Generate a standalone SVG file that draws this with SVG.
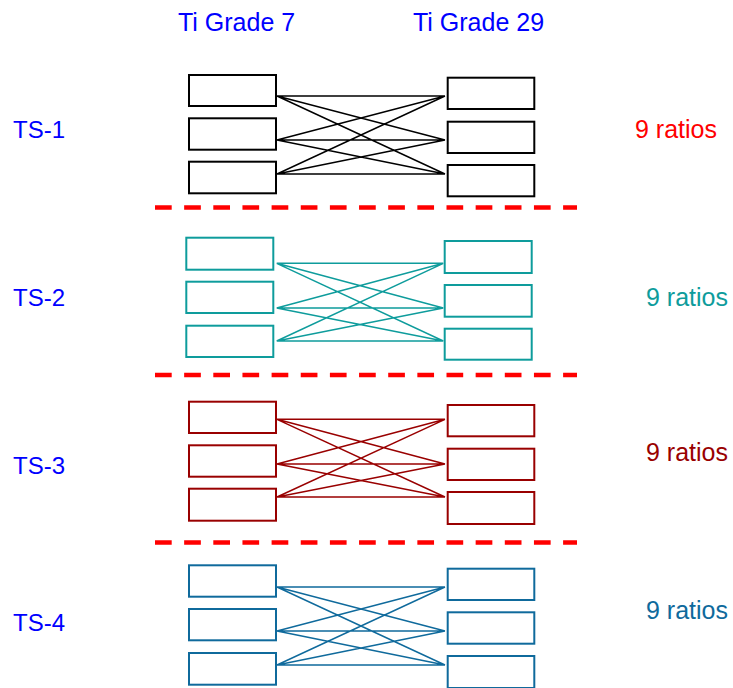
<svg xmlns="http://www.w3.org/2000/svg" width="733" height="688" viewBox="0 0 733 688">
<style>
text{font-family:"Liberation Sans",Arial,sans-serif;font-size:25px}
.hd{fill:#0000FF}
.box{fill:#fff;stroke-width:2}
.ln{stroke-width:1.4;fill:none}
.k{stroke:#000}
.t{stroke:#0E9C9C}
.r{stroke:#990000}
.b{stroke:#0F6A9C}
.sep{stroke:#FF0000;stroke-width:4.5;stroke-dasharray:16.7 12.45}
</style>
<rect width="733" height="688" fill="#fff"/>
<g id="headers">
<text class="hd" x="178" y="31">Ti Grade 7</text>
<text class="hd" x="413" y="31">Ti Grade 29</text>
</g>
<g id="labels">
<text class="hd" x="13" y="138" style="font-size:24px">TS-1</text>
<text class="hd" x="13" y="306" style="font-size:24px">TS-2</text>
<text class="hd" x="13" y="474" style="font-size:24px">TS-3</text>
<text class="hd" x="13" y="631" style="font-size:24px">TS-4</text>
<text x="635" y="138" fill="#FF0000">9 ratios</text>
<text x="646" y="306" fill="#0E9C9C">9 ratios</text>
<text x="646" y="461" fill="#990000">9 ratios</text>
<text x="646" y="619" fill="#0F6A9C">9 ratios</text>
</g>
<g id="separators">
<line class="sep" x1="155" y1="207.5" x2="577" y2="207.5"/>
<line class="sep" x1="155" y1="375" x2="577" y2="375"/>
<line class="sep" x1="155" y1="542.5" x2="577" y2="542.5"/>
</g>
<g id="connectors">
<g class="ln k">
<path d="M277 96L445 96M277 96L445 140M277 96L445 174M277 140L445 96M277 140L445 140M277 140L445 174M277 174L445 96M277 174L445 140M277 174L445 174"/>
</g>
<g class="ln t">
<path d="M276.7 263.3L443.3 263.3M276.7 263.3L443.3 308M276.7 263.3L443.3 341M276.7 308L443.3 263.3M276.7 308L443.3 308M276.7 308L443.3 341M276.7 341L443.3 263.3M276.7 341L443.3 308M276.7 341L443.3 341"/>
</g>
<g class="ln r">
<path d="M277 419.3L445 419.3M277 419.3L445 464M277 419.3L445 497M277 464L445 419.3M277 464L445 464M277 464L445 497M277 497L445 419.3M277 497L445 464M277 497L445 497"/>
</g>
<g class="ln b">
<path d="M277 587L445 587M277 587L445 631M277 587L445 665M277 631L445 587M277 631L445 631M277 631L445 665M277 665L445 587M277 665L445 631M277 665L445 665"/>
</g>
</g>
<g id="ts1">
<g id="ts1-l1"><rect class="box k" x="189" y="75" width="87" height="31"/></g>
<g id="ts1-l2"><rect class="box k" x="189" y="118.3" width="87" height="31.4"/></g>
<g id="ts1-l3"><rect class="box k" x="189" y="161.7" width="87" height="31.6"/></g>
<g id="ts1-r1"><rect class="box k" x="447.7" y="77.7" width="86.6" height="31.3"/></g>
<g id="ts1-r2"><rect class="box k" x="447.7" y="121.7" width="86.6" height="31.3"/></g>
<g id="ts1-r3"><rect class="box k" x="447.7" y="165" width="86.6" height="31.3"/></g>
</g>
<g id="ts2">
<g id="ts2-l1"><rect class="box t" x="186.3" y="237.7" width="87" height="32"/></g>
<g id="ts2-l2"><rect class="box t" x="186.3" y="281.7" width="87" height="31.3"/></g>
<g id="ts2-l3"><rect class="box t" x="186.3" y="325.7" width="87" height="31.3"/></g>
<g id="ts2-r1"><rect class="box t" x="444.7" y="241" width="87" height="32"/></g>
<g id="ts2-r2"><rect class="box t" x="444.7" y="285" width="87" height="31.7"/></g>
<g id="ts2-r3"><rect class="box t" x="444.7" y="328.7" width="87" height="31"/></g>
</g>
<g id="ts3">
<g id="ts3-l1"><rect class="box r" x="189" y="401.7" width="87" height="31.3"/></g>
<g id="ts3-l2"><rect class="box r" x="189" y="445.3" width="87" height="31.4"/></g>
<g id="ts3-l3"><rect class="box r" x="189" y="488.7" width="87" height="32"/></g>
<g id="ts3-r1"><rect class="box r" x="447.7" y="405" width="86.6" height="31.3"/></g>
<g id="ts3-r2"><rect class="box r" x="447.7" y="448.7" width="86.6" height="31.3"/></g>
<g id="ts3-r3"><rect class="box r" x="447.7" y="492" width="86.6" height="32"/></g>
</g>
<g id="ts4">
<g id="ts4-l1"><rect class="box b" x="189" y="565.3" width="87" height="31.4"/></g>
<g id="ts4-l2"><rect class="box b" x="189" y="609" width="87" height="31.3"/></g>
<g id="ts4-l3"><rect class="box b" x="189" y="653" width="87" height="31.7"/></g>
<g id="ts4-r1"><rect class="box b" x="447.7" y="568.7" width="86.6" height="31.3"/></g>
<g id="ts4-r2"><rect class="box b" x="447.7" y="612.3" width="86.6" height="31.4"/></g>
<g id="ts4-r3"><rect class="box b" x="447.7" y="656" width="86.6" height="32"/></g>
</g>
</svg>
